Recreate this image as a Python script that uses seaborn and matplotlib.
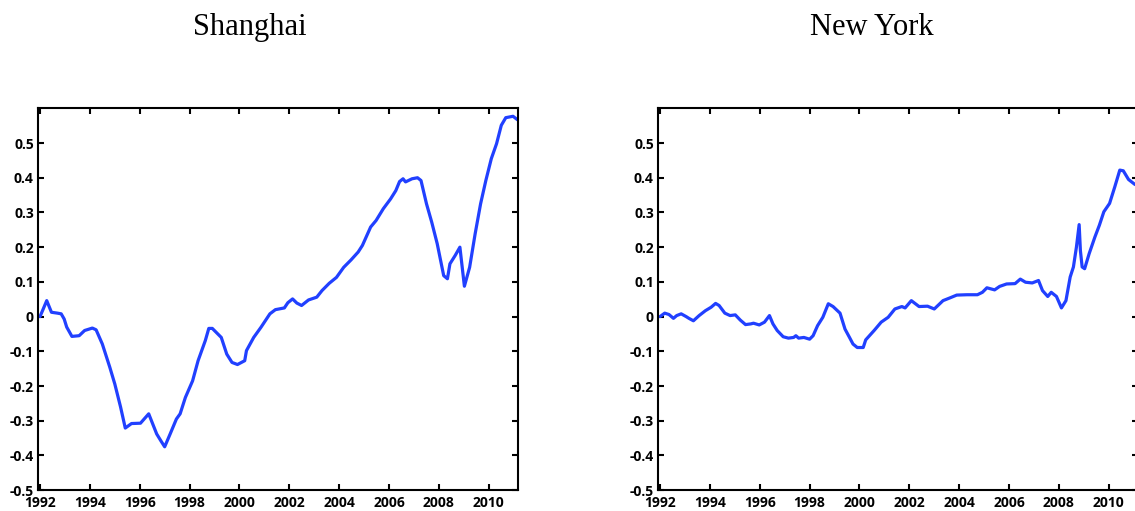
import numpy as np
import pandas as pd
import matplotlib
matplotlib.use("Agg")
import matplotlib.pyplot as plt
import seaborn as sns

# ---- data ----
sh_year = [1992.0, 1992.13, 1992.27, 1992.46, 1992.7, 1992.85, 1992.97, 1993.07, 1993.28, 1993.57,
           1993.79, 1994.1, 1994.25, 1994.5, 1994.8, 1995.0, 1995.23, 1995.42, 1995.67, 1996.03,
           1996.36, 1996.68, 1996.85, 1997.0, 1997.22, 1997.47, 1997.62, 1997.83, 1998.12, 1998.34,
           1998.63, 1998.77, 1998.91, 1999.27, 1999.49, 1999.7, 1999.92, 2000.21, 2000.28, 2000.57,
           2000.86, 2001.22, 2001.44, 2001.8, 2001.94, 2002.13, 2002.3, 2002.49, 2002.77, 2003.1,
           2003.31, 2003.6, 2003.89, 2004.18, 2004.47, 2004.76, 2004.93, 2005.26, 2005.48, 2005.77,
           2006.06, 2006.27, 2006.42, 2006.56, 2006.66, 2006.92, 2007.14, 2007.28, 2007.5, 2007.71,
           2007.93, 2008.19, 2008.34, 2008.44, 2008.65, 2008.84, 2009.02, 2009.23, 2009.45, 2009.67,
           2009.88, 2010.1, 2010.31, 2010.5, 2010.68, 2010.97, 2011.15]
sh_value = [0.0, 0.022, 0.046, 0.0125, 0.01, 0.008, -0.007, -0.03, -0.057, -0.055,
            -0.04, -0.033, -0.038, -0.079, -0.146, -0.194, -0.26, -0.321, -0.308, -0.307,
            -0.28, -0.338, -0.358, -0.375, -0.338, -0.295, -0.28, -0.233, -0.185, -0.127,
            -0.069, -0.034, -0.034, -0.06, -0.108, -0.132, -0.138, -0.127, -0.098, -0.06,
            -0.031, 0.008, 0.02, 0.025, 0.04, 0.051, 0.039, 0.032, 0.048, 0.056,
            0.075, 0.096, 0.113, 0.142, 0.163, 0.186, 0.205, 0.258, 0.277, 0.311,
            0.339, 0.363, 0.389, 0.397, 0.388, 0.397, 0.4, 0.392, 0.325, 0.272,
            0.21, 0.118, 0.109, 0.152, 0.176, 0.2, 0.0875, 0.142, 0.238, 0.325,
            0.392, 0.455, 0.498, 0.551, 0.573, 0.577, 0.567]

ny_year = [1992.0, 1992.19, 1992.36, 1992.54, 1992.67, 1992.85, 1993.05, 1993.16, 1993.34, 1993.57,
           1993.82, 1994.05, 1994.23, 1994.37, 1994.6, 1994.81, 1995.02, 1995.22, 1995.43, 1995.64,
           1995.75, 1995.98, 1996.19, 1996.39, 1996.53, 1996.7, 1996.94, 1997.15, 1997.36, 1997.45,
           1997.56, 1997.77, 1998.0, 1998.14, 1998.32, 1998.53, 1998.75, 1998.94, 1999.22, 1999.42,
           1999.6, 1999.74, 1999.91, 2000.15, 2000.25, 2000.6, 2000.87, 2001.15, 2001.42, 2001.7,
           2001.83, 2002.08, 2002.39, 2002.73, 2003.0, 2003.35, 2003.63, 2003.9, 2004.31, 2004.73,
           2004.93, 2005.11, 2005.42, 2005.62, 2005.9, 2006.24, 2006.45, 2006.66, 2006.93, 2007.18,
           2007.34, 2007.55, 2007.69, 2007.9, 2008.1, 2008.28, 2008.45, 2008.58, 2008.7, 2008.81,
           2008.86, 2008.93, 2009.03, 2009.21, 2009.44, 2009.62, 2009.8, 2010.03, 2010.24, 2010.44,
           2010.58, 2010.79, 2011.04, 2011.15]
ny_value = [0.0, 0.01, 0.006, -0.005, 0.003, 0.008, 0.0, -0.005, -0.012, 0.003,
            0.017, 0.027, 0.038, 0.032, 0.01, 0.003, 0.005, -0.01, -0.023, -0.021,
            -0.019, -0.024, -0.016, 0.003, -0.021, -0.04, -0.058, -0.062, -0.06, -0.055,
            -0.062, -0.06, -0.065, -0.055, -0.026, -0.002, 0.037, 0.029, 0.01, -0.036,
            -0.06, -0.079, -0.089, -0.089, -0.067, -0.039, -0.016, -0.002, 0.022, 0.029,
            0.025, 0.046, 0.029, 0.03, 0.022, 0.046, 0.054, 0.062, 0.063, 0.063,
            0.07, 0.083, 0.077, 0.087, 0.094, 0.095, 0.108, 0.099, 0.097, 0.104,
            0.075, 0.058, 0.07, 0.058, 0.025, 0.046, 0.114, 0.143, 0.2, 0.265,
            0.19, 0.143, 0.138, 0.181, 0.229, 0.263, 0.302, 0.326, 0.374, 0.422,
            0.42, 0.395, 0.381, 0.378]

titles = ["Shanghai", "New York"]
x_ticks = list(range(1992, 2011, 2))
y_ticks = [-0.5, -0.4, -0.3, -0.2, -0.1, 0.0, 0.1, 0.2, 0.3, 0.4, 0.5]
y_tick_labels = ["-0.5", "-0.4", "-0.3", "-0.2", "-0.1", "0", "0.1", "0.2", "0.3", "0.4", "0.5"]

# ---- styling ----
sns.set_theme(style="ticks")
plt.rcParams["font.family"] = ["Open Sans", "DejaVu Sans"]

W, H = 1135, 511
fig = plt.figure(figsize=(W / 100, H / 100), dpi=100)
fig.patch.set_facecolor("white")

line_color = "#2140ff"
ax_bottom = (H - 490.2) / H
ax_height = (490.2 - 108.3) / H
ax_width = 480 / W
ax_lefts = [38 / W, 658 / W]
title_x = [250 / W, 872 / W]

series = [(sh_year, sh_value), (ny_year, ny_value)]

for i, (yr, val) in enumerate(series):
    ax = fig.add_axes([ax_lefts[i], ax_bottom, ax_width, ax_height])
    df = pd.DataFrame({"year": yr, "value": val})
    sns.lineplot(data=df, x="year", y="value", ax=ax, color=line_color,
                 linewidth=2.3, sort=True, estimator=None)
    ax.set_xlim(1991.92, 2011.17)
    ax.set_ylim(-0.5, 0.6)
    ax.set_xticks(x_ticks)
    ax.set_xticklabels([str(t) for t in x_ticks])
    ax.set_yticks(y_ticks)
    ax.set_yticklabels(y_tick_labels)
    ax.set_xlabel("")
    ax.set_ylabel("")
    ax.tick_params(direction="in", length=4, width=1.5, top=True, right=True,
                   labelsize=10, colors="black")
    ax.tick_params(axis="x", pad=4)
    ax.tick_params(axis="y", pad=3)
    for lab in ax.get_xticklabels() + ax.get_yticklabels():
        lab.set_fontweight("bold")
    for sp in ax.spines.values():
        sp.set_linewidth(1.5)
        sp.set_color("black")
        sp.set_visible(True)
    fig.text(title_x[i], 1 - 35 / H, titles[i], ha="center", va="baseline",
             fontsize=22, color="black", family=["Liberation Serif", "DejaVu Serif"])

fig.savefig("out.png", dpi=100, facecolor="white")
